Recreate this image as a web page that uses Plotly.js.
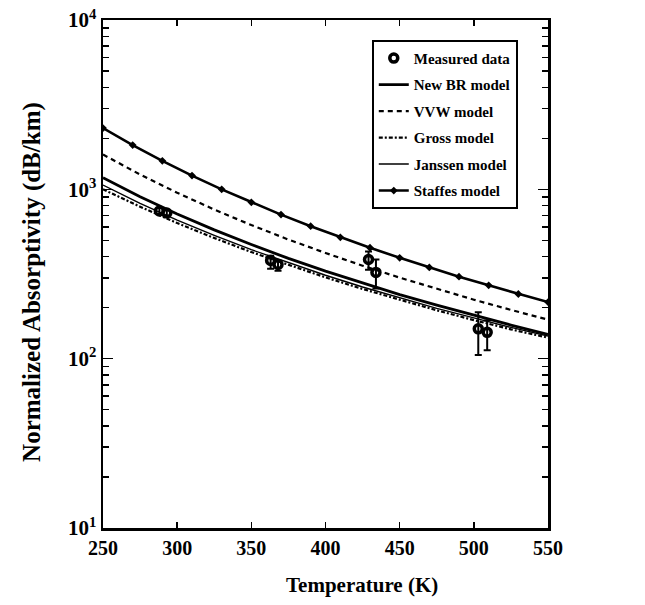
<!DOCTYPE html>
<html>
<head>
<meta charset="utf-8">
<script src="https://cdn.plot.ly/plotly-3.0.1.min.js"></script>
<style>html,body{margin:0;padding:0;background:#fff;}#chart{width:645px;height:605px;}</style>
</head>
<body>
<div id="chart"></div>
<script>
// Model curves: temperature grid (K)
var modelT = [250, 275, 300, 325, 350, 375, 400, 425, 450, 475, 500, 525, 550];
var newBR   = [1170, 905, 715, 576, 472, 391, 329, 279, 239, 207, 180, 158, 139];
var vvw     = [1605, 1223, 955, 760, 615, 505, 421, 354, 301, 258, 223, 194, 170];
var gross   = [1000, 790, 632, 516, 426, 357, 302, 258, 222, 193, 169, 149, 133];
var janssen = [1060, 826, 658, 535, 440, 368, 311, 265, 228, 198, 174, 153, 136];

// Staffes model (with markers every 20 K)
var staffesT = [250, 270, 290, 310, 330, 350, 370, 390, 410, 430, 450, 470, 490, 510, 530, 550];
var staffes  = [2300, 1826, 1474, 1206, 1000, 838, 709, 606, 521, 452, 394, 346, 305, 271, 241, 216];

// Measured data with error bars
var measT     = [288, 293, 363, 368, 429, 434, 503, 509];
var meas      = [745, 725, 380, 360, 385, 323, 150, 143];
var measErrUp = [30, 25, 25, 20, 45, 62, 38, 25];
var measErrDn = [30, 25, 40, 30, 50, 63, 45, 31];

var xTickVals = [250, 300, 350, 400, 450, 500, 550];
var yTickVals = [10, 100, 1000, 10000];
var yTickText = ['10<sup>1</sup>', '10<sup>2</sup>', '10<sup>3</sup>', '10<sup>4</sup>'];
var xTitle = 'Temperature (K)';
var yTitle = 'Normalized Absorptivity (dB/km)';

var FONT = 'Liberation Serif, Times New Roman, serif';

var traces = [
  {x: measT, y: meas, name: 'Measured data', mode: 'markers', type: 'scatter',
   legendgroup: 'a',
   marker: {symbol: 'circle-open', size: 8, color: '#000', line: {width: 3.5, color: '#000'}},
   error_y: {type: 'data', symmetric: false, array: measErrUp, arrayminus: measErrDn,
             color: '#000', thickness: 2, width: 3.5}},
  {x: modelT, y: newBR, name: 'New BR model', mode: 'lines', type: 'scatter',
   legendgroup: 'b', line: {color: '#000', width: 2.8}},
  {x: modelT, y: vvw, name: 'VVW model', mode: 'lines', type: 'scatter',
   legendgroup: 'c', line: {color: '#000', width: 2.2, dash: '5px,4px'}},
  {x: modelT, y: gross, name: 'Gross model', mode: 'lines', type: 'scatter',
   legendgroup: 'd', line: {color: '#000', width: 2.2, dash: '4px,2px,2px,2px'}},
  {x: modelT, y: janssen, name: 'Janssen model', mode: 'lines', type: 'scatter',
   legendgroup: 'e', line: {color: '#000', width: 1.4}},
  {x: staffesT, y: staffes, name: 'Staffes model', mode: 'lines+markers', type: 'scatter',
   legendgroup: 'f', line: {color: '#000', width: 2.6},
   marker: {symbol: 'diamond', size: 6, color: '#000'}}
];

var layout = {
  width: 645, height: 605,
  margin: {l: 103, r: 97, t: 20, b: 77},
  paper_bgcolor: '#fff', plot_bgcolor: '#fff',
  font: {family: FONT, color: '#000', weight: 'bold'},
  showlegend: true,
  legend: {
    x: 0.604, y: 0.961, xanchor: 'left', yanchor: 'top',
    bordercolor: '#000', borderwidth: 2, bgcolor: '#fff',
    font: {family: FONT, size: 15, color: '#000', weight: 'bold'},
    traceorder: 'grouped', tracegroupgap: 4, itemwidth: 30
  },
  xaxis: {
    range: [250, 550], tickmode: 'array', tickvals: xTickVals,
    ticks: 'inside', ticklen: 6, tickwidth: 1.5, tickcolor: '#000',
    showline: true, linewidth: 2.5, linecolor: '#000', mirror: 'allticks',
    showgrid: false, zeroline: false,
    tickfont: {family: FONT, size: 20, color: '#000', weight: 'bold'}
  },
  yaxis: {
    type: 'log', range: [1, 4], tickmode: 'array', tickvals: yTickVals, ticktext: yTickText,
    ticks: 'inside', ticklen: 10, tickwidth: 1.5, tickcolor: '#000',
    minor: {ticks: 'inside', ticklen: 6, tickwidth: 1.5, tickcolor: '#000', dtick: 'D1', showgrid: false},
    showline: true, linewidth: 2.5, linecolor: '#000', mirror: 'allticks',
    showgrid: false, zeroline: false,
    tickfont: {family: FONT, size: 21, color: '#000', weight: 'bold'}
  },
  annotations: [
    {text: xTitle, xref: 'paper', yref: 'paper', x: 0.582, y: -0.112,
     xanchor: 'center', yanchor: 'middle', showarrow: false,
     font: {family: FONT, size: 21, color: '#000', weight: 'bold'}},
    {text: yTitle, xref: 'paper', yref: 'paper', x: -0.16, y: 0.484, textangle: -90,
     xanchor: 'center', yanchor: 'middle', showarrow: false,
     font: {family: FONT, size: 25, color: '#000', weight: 'bold'}}
  ]
};

Plotly.newPlot('chart', traces, layout, {displayModeBar: false, staticPlot: true});
</script>
</body>
</html>
